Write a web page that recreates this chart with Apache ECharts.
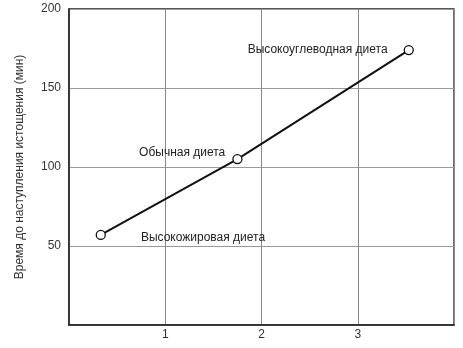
<!DOCTYPE html>
<html>
<head>
<meta charset="utf-8">
<script src="https://cdn.jsdelivr.net/npm/echarts@6/dist/echarts.min.js"></script>
<style>html,body{margin:0;padding:0;background:#fff;}#c{width:463px;height:348px;}</style>
</head>
<body>
<div id="c"></div>
<script>
// Data
var dietNames = ['Высокожировая диета', 'Обычная диета', 'Высокоуглеводная диета'];
var glycogen = [0.33, 1.75, 3.53];
var timeToExhaustion = [57, 105, 174];
var xTickLabels = ['1', '2', '3'];
var yTickLabels = ['50', '100', '150', '200'];
var yAxisTitle = 'Время до наступления истощения (мин)';

var labelPlacement = [
  {position: 'right', distance: 35, offset: [0, 3]},
  {position: 'left', distance: 7, offset: [0, -6]},
  {position: 'left', distance: 16, offset: [0, 0]}
];

var seriesData = glycogen.map(function (x, i) {
  return {
    value: [x, timeToExhaustion[i]],
    label: Object.assign({show: true, formatter: dietNames[i]}, labelPlacement[i])
  };
});

var chart = echarts.init(document.getElementById('c'), null, {renderer: 'canvas'});
chart.setOption({
  backgroundColor: '#fff',
  animation: false,
  grid: {left: 69, right: 9, top: 9, bottom: 23, show: true, borderColor: '#222', borderWidth: 1.3},
  xAxis: {
    type: 'value', min: 0, max: 4, interval: 1,
    axisLine: {show: true, onZero: false, lineStyle: {color: '#222', width: 1.5}},
    axisTick: {show: false},
    axisLabel: {
      color: '#333', fontSize: 12, fontFamily: 'Liberation Sans, Arial, sans-serif', margin: 4,
      formatter: function (v) { return xTickLabels.indexOf(String(v)) >= 0 ? String(v) : ''; }
    },
    splitLine: {show: true, lineStyle: {color: '#888', width: 1}}
  },
  yAxis: {
    type: 'value', min: 0, max: 200, interval: 50,
    name: yAxisTitle, nameLocation: 'middle', nameGap: 43,
    nameTextStyle: {color: '#333', fontSize: 12, fontFamily: 'Liberation Sans, Arial, sans-serif'},
    axisLine: {show: true, lineStyle: {color: '#222', width: 1.5}},
    axisTick: {show: false},
    axisLabel: {
      color: '#333', fontSize: 12, fontFamily: 'Liberation Sans, Arial, sans-serif', margin: 8,
      formatter: function (v) { return yTickLabels.indexOf(String(v)) >= 0 ? String(v) : ''; }
    },
    splitLine: {show: true, lineStyle: {color: '#999', width: 1}}
  },
  series: [{
    type: 'line',
    data: seriesData,
    symbol: 'circle', symbolSize: 9,
    lineStyle: {color: '#111', width: 2},
    itemStyle: {color: '#fff', borderColor: '#111', borderWidth: 1.3},
    label: {color: '#222', fontSize: 12, fontFamily: 'Liberation Sans, Arial, sans-serif'},
    z: 5
  }]
});
</script>
</body>
</html>
